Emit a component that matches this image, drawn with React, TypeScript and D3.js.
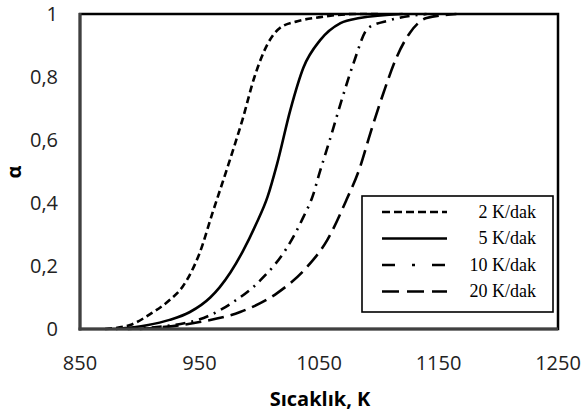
import * as d3 from 'd3'

// heating rates (K/dak) and conversion curves
const seriesNames = ['2 K/dak', '5 K/dak', '10 K/dak', '20 K/dak']

const temp2 = [871, 892, 909, 925, 936, 943, 950, 961, 974, 986, 996, 1007, 1017, 1032, 1051, 1080, 1100]
const alpha2 = [0, 0.013, 0.048, 0.092, 0.135, 0.18, 0.24, 0.37, 0.52, 0.665, 0.8, 0.905, 0.955, 0.977, 0.99, 1.0, 1.0]

const temp5 = [880, 906, 925, 942, 959, 967, 976, 986, 997, 1007, 1015, 1026, 1037, 1051, 1068, 1084, 1120]
const alpha5 = [0, 0.012, 0.029, 0.054, 0.1, 0.133, 0.18, 0.245, 0.33, 0.42, 0.525, 0.695, 0.83, 0.917, 0.971, 0.987, 1.0]

const temp10 = [890, 942, 959, 976, 1001, 1023, 1037, 1045, 1050, 1059, 1069, 1079, 1091, 1109, 1140]
const alpha10 = [0, 0.022, 0.044, 0.08, 0.155, 0.257, 0.356, 0.425, 0.49, 0.6, 0.727, 0.845, 0.955, 0.98, 1.0]

const temp20 = [900, 950, 984, 1015, 1040, 1057, 1073, 1084, 1093, 1104, 1115, 1126, 1140, 1165]
const alpha20 = [0, 0.022, 0.054, 0.114, 0.197, 0.283, 0.41, 0.51, 0.622, 0.75, 0.863, 0.94, 0.987, 1.0]

const xTicks = [850, 950, 1050, 1150, 1250]
const yTicks = [0, 0.2, 0.4, 0.6, 0.8, 1]

const dashes = ['7,4', '', '10,6,2,6', '16,7']
const legendDashes = ['8,4', '', '13,17,3,17', '17,8']

const W = 585
const H = 419
const m = { left: 80, top: 14, right: 27, bottom: 90 }

export default function App() {
  const x = d3.scaleLinear().domain([850, 1250]).range([m.left, W - m.right])
  const y = d3.scaleLinear().domain([0, 1]).range([H - m.bottom, m.top])

  const series = [
    { t: temp2, a: alpha2 },
    { t: temp5, a: alpha5 },
    { t: temp10, a: alpha10 },
    { t: temp20, a: alpha20 },
  ]

  const line = d3
    .line<[number, number]>()
    .x((d) => x(d[0]))
    .y((d) => y(d[1]))
    .curve(d3.curveMonotoneX)

  const sans = "'Open Sans', 'Noto Sans', sans-serif"
  const serif = "'Liberation Serif', 'DejaVu Serif', serif"

  const lx = 362
  const ly = 196
  const lw = 191
  const lh = 116
  const rowH = 26.5

  return (
    <svg width={W} height={H} style={{ position: 'absolute', left: 0, top: 0, background: '#fff' }}>
      <rect x={0} y={0} width={W} height={H} fill="#fff" />

      {series.map((s, i) => (
        <path
          key={i}
          d={line(s.t.map((t, j) => [t, s.a[j]] as [number, number])) || ''}
          fill="none"
          stroke="#000"
          strokeWidth={2.6}
          strokeDasharray={dashes[i] || undefined}
        />
      ))}

      {/* plot frame */}
      <rect x={x(850)} y={y(1)} width={x(1250) - x(850)} height={y(0) - y(1)} fill="none" stroke="#000" strokeWidth={2.5} />
      <line x1={x(850)} x2={x(850)} y1={y(1) - 1} y2={y(0) + 1.5} stroke="#404040" strokeWidth={3} />
      <line x1={x(850) - 1.5} x2={x(1250)} y1={y(0)} y2={y(0)} stroke="#404040" strokeWidth={3} />

      {yTicks.map((t) => (
        <text key={t} x={58} y={y(t) + 7} textAnchor="end" fontFamily={sans} fontSize={20} fill="#222">
          {String(t).replace('.', ',')}
        </text>
      ))}
      {xTicks.map((t) => (
        <text key={t} x={x(t)} y={370} textAnchor="middle" fontFamily={sans} fontSize={20} fill="#222">
          {t}
        </text>
      ))}

      <text x={320} y={406} textAnchor="middle" fontFamily={sans} fontWeight="bold" fontSize={20} fill="#000">
        Sıcaklık, K
      </text>
      <text
        transform={`translate(16,172) rotate(-90)`}
        textAnchor="middle"
        dominantBaseline="middle"
        fontFamily={sans}
        fontWeight="bold"
        fontSize={20}
        fill="#000"
      >
        α
      </text>

      {/* legend */}
      <rect x={lx} y={ly} width={lw} height={lh} fill="#fff" stroke="#000" strokeWidth={1.6} />
      {seriesNames.map((name, i) => {
        const cy = ly + 16 + i * rowH
        return (
          <g key={name}>
            <line x1={382} x2={447} y1={cy} y2={cy} stroke="#000" strokeWidth={2.6} strokeDasharray={legendDashes[i] || undefined} />
            <text x={536} y={cy + 5.5} textAnchor="end" fontFamily={serif} fontSize={18} fill="#000">
              {name}
            </text>
          </g>
        )
      })}
    </svg>
  )
}
